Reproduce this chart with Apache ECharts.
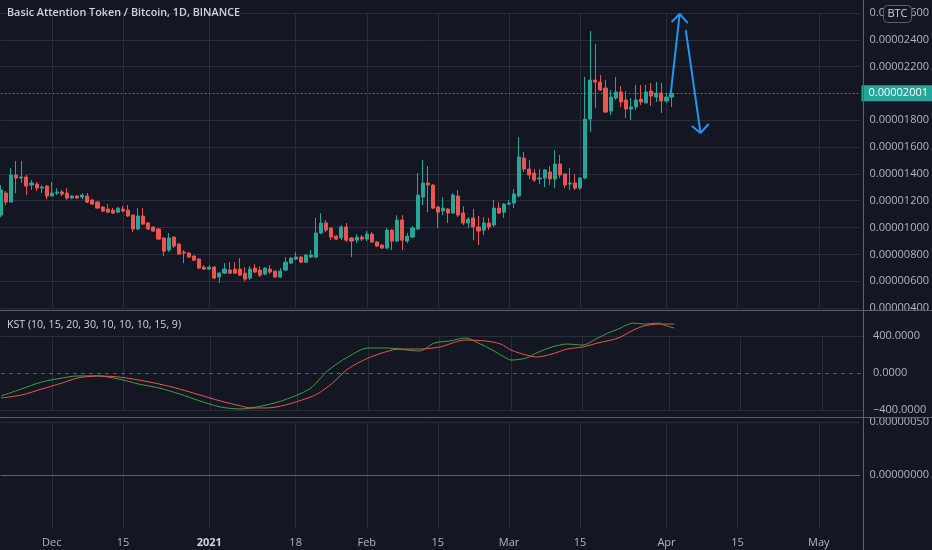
<!DOCTYPE html>
<html>
<head>
<meta charset="utf-8">
<script src="https://cdn.jsdelivr.net/npm/echarts@6/dist/echarts.min.js"></script>
<style>
  html, body { margin: 0; padding: 0; background: #131722; }
  #chart { width: 932px; height: 550px; }
</style>
</head>
<body>
<div id="chart"></div>
<script>
// daily candles from 2020-11-21, prices in satoshi (1e-8 BTC)
const opens = [
  1093, 1257, 1190, 1392, 1369, 1377, 1317, 1324, 1294, 1309,
  1235, 1257, 1265, 1257, 1220, 1235, 1227, 1235, 1205, 1190,
  1153, 1138, 1130, 1115, 1138, 1130, 1093, 989, 1086, 1034,
  1004, 989, 922, 832, 929, 877, 817, 810, 787, 765,
  705, 690, 705, 631, 660, 683, 690, 690, 660, 623,
  698, 683, 653, 690, 675, 631, 683, 735, 765, 780,
  742, 780, 780, 959, 1034, 996, 936, 922, 1004, 922,
  906, 929, 914, 951, 892, 869, 847, 981, 899, 1056,
  899, 929, 989, 1227, 1332, 1317, 1153, 1123, 1138, 1108,
  1235, 1108, 1034, 1071, 1004, 981, 1034, 1019, 1145, 1115,
  1175, 1183, 1235, 1518, 1436, 1406, 1362, 1369, 1414, 1362,
  1474, 1399, 1324, 1332, 1294, 1369, 1809, 2100, 2085, 2040,
  1869, 1966, 2011, 1951, 1884, 1899, 1958, 1929, 2018, 1973,
  2003, 1944, 1973
];
const highs = [
  1317, 1272, 1444, 1496, 1496, 1392, 1354, 1339, 1317, 1317,
  1339, 1294, 1280, 1294, 1242, 1242, 1257, 1257, 1212, 1198,
  1160, 1175, 1145, 1153, 1160, 1168, 1093, 1145, 1145, 1041,
  1011, 996, 929, 959, 936, 884, 832, 817, 795, 772,
  720, 720, 713, 668, 735, 742, 742, 772, 705, 713,
  728, 713, 705, 720, 683, 698, 780, 780, 817, 787,
  802, 832, 1071, 1108, 1056, 1004, 944, 1019, 1034, 929,
  951, 944, 974, 966, 899, 877, 996, 989, 1093, 1093,
  959, 1011, 1406, 1503, 1459, 1324, 1160, 1227, 1145, 1257,
  1280, 1160, 1078, 1138, 1086, 1078, 1071, 1205, 1190, 1183,
  1205, 1287, 1675, 1563, 1503, 1436, 1436, 1436, 1459, 1578,
  1541, 1406, 1444, 1399, 1377, 2123, 2466, 2369, 2137, 2100,
  2026, 2123, 2055, 2018, 1966, 2063, 2063, 2063, 2078, 2085,
  2078, 2003, 2011
];
const lows = [
  1078, 1168, 1190, 1257, 1332, 1242, 1280, 1272, 1257, 1212,
  1235, 1242, 1235, 1205, 1212, 1212, 1212, 1183, 1168, 1138,
  1115, 1108, 1101, 1108, 1115, 1078, 966, 981, 1019, 981,
  966, 906, 787, 817, 847, 795, 735, 772, 750, 690,
  683, 683, 616, 586, 653, 653, 653, 638, 601, 608,
  660, 631, 645, 653, 623, 623, 675, 728, 757, 735,
  735, 772, 772, 951, 966, 906, 906, 906, 892, 780,
  884, 899, 899, 884, 854, 839, 839, 832, 892, 832,
  884, 922, 981, 1168, 1115, 1138, 996, 1093, 1034, 1101,
  1078, 1019, 996, 906, 869, 944, 981, 1004, 1101, 1071,
  1168, 1145, 1227, 1414, 1362, 1339, 1324, 1302, 1317, 1294,
  1369, 1294, 1280, 1280, 1280, 1362, 1712, 1891, 2018, 1854,
  1839, 1951, 1899, 1817, 1802, 1876, 1914, 1929, 1906, 1936,
  1854, 1929, 1899
];
const closes = [
  1280, 1190, 1392, 1369, 1377, 1309, 1332, 1294, 1302, 1235,
  1257, 1265, 1250, 1220, 1235, 1220, 1242, 1190, 1175, 1145,
  1123, 1115, 1108, 1145, 1123, 1086, 989, 1086, 1026, 989,
  974, 914, 824, 922, 862, 802, 810, 780, 757, 698,
  690, 705, 623, 660, 690, 660, 660, 645, 616, 690,
  668, 645, 698, 668, 631, 675, 742, 772, 780, 742,
  795, 795, 959, 1034, 981, 929, 914, 1004, 906, 899,
  929, 914, 951, 892, 862, 847, 981, 899, 1056, 906,
  936, 996, 1242, 1332, 1317, 1145, 1115, 1145, 1108, 1242,
  1093, 1034, 1063, 1004, 974, 1034, 1004, 1145, 1108, 1175,
  1183, 1250, 1526, 1436, 1392, 1354, 1369, 1429, 1362, 1474,
  1392, 1317, 1332, 1294, 1369, 1809, 2100, 2085, 2026, 1861,
  1973, 2011, 1936, 1884, 1899, 1951, 1936, 2011, 1981, 2003,
  1944, 1973, 2001
];
const lastPrice = 2001;

// KST indicator, read at day indices
const kstIdx = [0, 4, 8, 12, 15, 19, 23, 27, 31, 35, 39, 43, 47, 49, 52, 55, 59, 61, 64, 68,
  72, 76, 78, 82, 85, 88, 91, 94, 96, 99, 100, 103, 105, 108, 111, 114, 117, 119, 121, 124,
  126, 129, 130, 132];
const kstVal = [-248, -173, -97, -54, -32, -32, -65, -119, -162, -227, -302, -367, -389, -378, -346, -302, -216, -151, 22, 173,
  270, 270, 259, 238, 324, 346, 378, 313, 259, 162, 140, 162, 216, 281, 313, 302, 378, 432, 475, 540,
  529, 540, 518, 486];
const signalIdx = [0, 4, 8, 12, 15, 19, 23, 27, 31, 35, 39, 43, 47, 49, 52, 55, 59, 62, 65, 68,
  72, 76, 78, 82, 86, 91, 95, 98, 100, 103, 105, 108, 111, 114, 117, 121, 124, 126, 129, 132];
const signalVal = [-270, -238, -173, -108, -54, -32, -43, -76, -119, -173, -238, -302, -356, -378, -378, -356, -292, -227, -108, 43,
  162, 238, 259, 259, 281, 356, 346, 313, 248, 194, 173, 205, 259, 281, 324, 378, 464, 508, 529, 529];

// hand-drawn blue arrows (day index, price)
const arrowUpX = [131.8, 133.6, 132.0, 133.6, 135.2];
const arrowUpY = [1988, 2593, 2533, 2593, 2525];
const arrowDownX = [134.8, 137.7, 136.0, 137.7, 139.3];
const arrowDownY = [2473, 1705, 1757, 1705, 1772];

const tickDates = ['2020-12-01', '2020-12-15', '2021-01-01', '2021-01-18', '2021-02-01', '2021-02-15',
  '2021-03-01', '2021-03-15', '2021-04-01', '2021-04-15', '2021-05-01'];
const tickLabels = ['Dec', '15', '2021', '18', 'Feb', '15', 'Mar', '15', 'Apr', '15', 'May'];

const startDay = Date.UTC(2020, 10, 21);
const dayCount = 170;
const days = Array.from({ length: dayCount }, (_, i) =>
  new Date(startDay + i * 86400000).toISOString().slice(0, 10));

const gridColor = '#2a2e39';
const borderColor = '#5d606b';
const textColor = '#b2b5be';
const font = '"Open Sans", sans-serif';

const isTick = (index, value) => tickDates.includes(value);

function hiddenCategoryAxis(gridIndex) {
  return {
    type: 'category',
    gridIndex,
    data: days,
    boundaryGap: false,
    axisLine: { show: false },
    axisTick: { show: false },
    axisLabel: { show: false },
    splitLine: { show: true, interval: isTick, lineStyle: { color: gridColor } }
  };
}

const bottomAxis = hiddenCategoryAxis(2);
bottomAxis.axisLine = { show: true, lineStyle: { color: borderColor } };
bottomAxis.axisLabel = {
  show: true,
  interval: isTick,
  margin: 9,
  color: textColor,
  fontFamily: font,
  fontSize: 11,
  formatter: (value) => {
    const label = tickLabels[tickDates.indexOf(value)];
    return label === '2021' ? '{b|2021}' : label;
  },
  rich: { b: { fontWeight: 'bold', color: '#d1d4dc', fontFamily: font, fontSize: 11 } }
};

const satoshi = (v) => (v / 1e8).toFixed(8);

function priceScale(gridIndex, min, max, interval, formatter, splitColors) {
  return {
    type: 'value', gridIndex, position: 'right', min, max, interval,
    axisLine: { show: false },
    axisTick: { show: false },
    axisLabel: { color: textColor, fontSize: 11, margin: 10, formatter },
    splitLine: { lineStyle: { color: splitColors } }
  };
}

const chart = echarts.init(document.getElementById('chart'));

chart.setOption({
  animation: false,
  backgroundColor: '#131722',
  textStyle: { fontFamily: font },
  grid: [
    { left: 1, right: 69, top: 13, height: 295 },
    { left: 1, right: 69, top: 336, height: 74 },
    { left: 1, right: 69, top: 422, height: 106 }
  ],
  xAxis: [
    hiddenCategoryAxis(0),
    hiddenCategoryAxis(1),
    bottomAxis,
    { type: 'value', gridIndex: 0, min: 0, max: dayCount - 1, show: false }
  ],
  yAxis: [
    priceScale(0, 400, 2600, 200, satoshi, gridColor),
    priceScale(1, -400, 400, 400,
      (v) => (v < 0 ? '\u2212' : '') + Math.abs(v).toFixed(4),
      [gridColor, 'rgba(0,0,0,0)', gridColor]),
    priceScale(2, -50, 50, 50, (v) => (v < 0 ? '' : satoshi(v)),
      ['rgba(0,0,0,0)', gridColor, gridColor])
  ],
  series: [
    {
      name: 'BATBTC',
      type: 'candlestick',
      xAxisIndex: 0,
      yAxisIndex: 0,
      barWidth: 3.6,
      data: opens.map((o, i) => [o, closes[i], lows[i], highs[i]]),
      itemStyle: {
        color: '#26a69a', color0: '#ef5350',
        borderColor: '#26a69a', borderColor0: '#ef5350', borderWidth: 1
      },
      markLine: {
        silent: true,
        symbol: 'none',
        lineStyle: { color: '#26a69a', type: [1, 3], width: 1 },
        label: {
          show: true, position: 'end', distance: 2,
          formatter: () => satoshi(lastPrice),
          color: '#ffffff', backgroundColor: '#26a69a',
          fontSize: 11, padding: [3, 5, 2, 7]
        },
        data: [{ yAxis: lastPrice }]
      }
    },
    {
      name: 'KST',
      type: 'line',
      xAxisIndex: 1,
      yAxisIndex: 1,
      data: kstIdx.map((x, k) => [x, kstVal[k]]),
      smooth: 0.3,
      symbol: 'none',
      clip: false,
      lineStyle: { color: '#43a047', width: 1 },
      markLine: {
        silent: true,
        symbol: 'none',
        label: { show: false },
        lineStyle: { color: '#5d606b', type: [4, 4], width: 1 },
        data: [{ yAxis: 0 }]
      }
    },
    {
      name: 'Signal',
      type: 'line',
      xAxisIndex: 1,
      yAxisIndex: 1,
      data: signalIdx.map((x, k) => [x, signalVal[k]]),
      smooth: 0.3,
      symbol: 'none',
      clip: false,
      lineStyle: { color: '#ef5350', width: 1 }
    },
    {
      name: 'Arrow up',
      type: 'line',
      xAxisIndex: 3,
      yAxisIndex: 0,
      data: arrowUpX.map((x, k) => [x, arrowUpY[k]]),
      symbol: 'none',
      clip: false,
      lineStyle: { color: '#2196f3', width: 2 }
    },
    {
      name: 'Arrow down',
      type: 'line',
      xAxisIndex: 3,
      yAxisIndex: 0,
      data: arrowDownX.map((x, k) => [x, arrowDownY[k]]),
      symbol: 'none',
      clip: false,
      lineStyle: { color: '#2196f3', width: 2 }
    }
  ],
  graphic: [
    { type: 'line', z: 50, shape: { x1: 0, y1: 310.5, x2: 932, y2: 310.5 }, style: { stroke: borderColor, lineWidth: 1 } },
    { type: 'line', z: 50, shape: { x1: 0, y1: 417.5, x2: 932, y2: 417.5 }, style: { stroke: borderColor, lineWidth: 1 } },
    { type: 'line', z: 50, shape: { x1: 863.5, y1: 0, x2: 863.5, y2: 550 }, style: { stroke: borderColor, lineWidth: 1 } },
    {
      type: 'text', left: 7, top: 7, z: 50,
      style: {
        text: 'Basic Attention Token / Bitcoin, 1D, BINANCE',
        fill: '#d1d4dc', font: '600 10.8px "Open Sans", sans-serif'
      }
    },
    {
      type: 'text', left: 7, top: 319, z: 50,
      style: {
        text: 'KST (10, 15, 20, 30, 10, 10, 10, 15, 9)',
        fill: '#d1d4dc', font: '10.6px "Open Sans", sans-serif'
      }
    },
    {
      type: 'group', left: 883, top: 5, z: 100,
      children: [
        { type: 'rect', z: 100, shape: { x: 0, y: 0, width: 28, height: 17, r: 4 }, style: { fill: '#131722', stroke: borderColor } },
        { type: 'text', z: 101, x: 14, y: 8.5, style: { text: 'BTC', fill: '#d1d4dc', font: '11px "Open Sans", sans-serif', align: 'center', verticalAlign: 'middle' } }
      ]
    }
  ]
});
</script>
</body>
</html>
